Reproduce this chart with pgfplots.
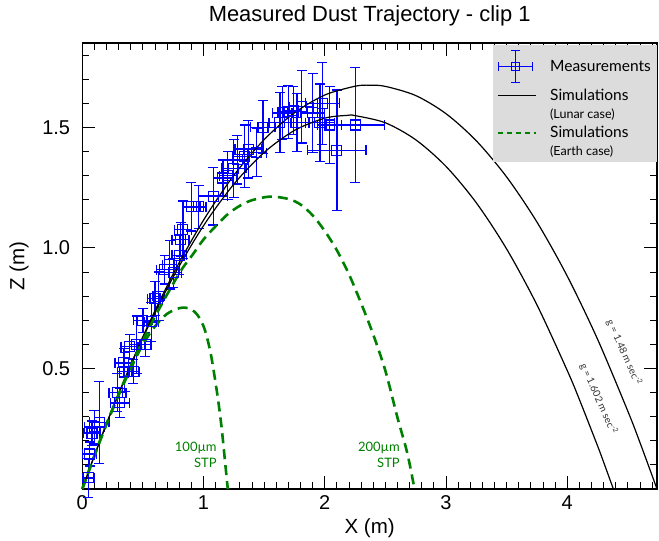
\documentclass[border=0pt]{standalone}
\usepackage{fontspec}
\setmainfont{Liberation Sans}
\newfontfamily\gill{Lato}
\usepackage{pgfplots}
\pgfplotsset{compat=1.18}
\definecolor{ptblue}{RGB}{0,0,255}
\definecolor{simgreen}{RGB}{0,128,0}
\definecolor{legendgray}{RGB}{220,220,220}

% error bars in blue with caps
\pgfplotsset{/pgfplots/error bars/draw error bar/.code 2 args={%
  \draw[ptblue, line width=1.2pt] #1 -- #2
    node[pos=1, sloped, allow upside down, inner sep=0pt, outer sep=0pt]
    {\tikz\draw[ptblue, line width=1.2pt] (0pt,-5pt) -- (0pt,5pt);};}}

\begin{document}
\begin{tikzpicture}
\begin{axis}[
  scale only axis, width=574.7pt, height=446pt,
  xmin=0, xmax=4.74, ymin=0, ymax=1.85,
  clip=false,
  xtick={0,1,2,3,4},
  minor xtick={0.1,0.2,...,4.7},
  ytick={0.5,1.0,1.5},
  minor ytick={0.1,0.2,...,1.8},
  tick align=inside,
  major tick length=13pt, minor tick length=7pt,
  every tick/.style={black, line width=0.9pt},
  axis line style={line width=1.3pt},
  /pgf/number format/assume math mode=true,
  tick label style={font=\fontsize{20}{22}\selectfont},
  xticklabel style={anchor=base, yshift=-20pt},
  yticklabel style={anchor=east, inner sep=0pt, xshift=-12pt,
    /pgf/number format/.cd, fixed, fixed zerofill, precision=1},
  title={Measured Dust Trajectory - clip 1},
  title style={at={([yshift=15pt]axis description cs:0.5,1)}, anchor=base,
    font=\fontsize{21.9}{24}\selectfont},
  xlabel={X (m)},
  xlabel style={at={([yshift=-44pt]axis description cs:0.5,0)}, anchor=base,
    font=\fontsize{20.5}{22}\selectfont},
  ylabel={Z (m)},
  ylabel style={at={([xshift=-58pt]axis description cs:0,0.5)}, anchor=base,
    font=\fontsize{20.5}{22}\selectfont},
  legend style={at={(1,1)}, anchor=north east, yshift=-2pt,
    fill=legendgray, draw=none, inner xsep=4pt, inner ysep=3pt,
    row sep=2.5pt,
    /tikz/every odd column/.append style={column sep=11pt},
    font=\gill\fontsize{15.5}{18}\selectfont},
  legend cell align=left,
]

% measured positions with errors
\addplot[color=ptblue, draw=ptblue, only marks, mark=square, mark size=5pt,
  mark options={line width=1.1pt, draw=ptblue},
  legend image code/.code={
    \path (0pt,-18pt) (0pt,18pt);
    \draw[ptblue, line width=1.2pt]
      (0pt,0pt) -- (34pt,0pt)
      (0pt,-4.5pt) -- (0pt,4.5pt)
      (34pt,-4.5pt) -- (34pt,4.5pt)
      (17pt,-16pt) -- (17pt,16pt)
      (12.5pt,-16pt) -- (21.5pt,-16pt)
      (12.5pt,16pt) -- (21.5pt,16pt)
      (13pt,-4pt) rectangle (21pt,4pt);},
  error bars/.cd, x dir=both, x explicit, y dir=both, y explicit]
  coordinates {
  (0.05,0.046) +- (0.05,0.08)
  (0.06,0.145) +- (0.06,0.05)
  (0.08,0.232) +- (0.07,0.05)
  (0.10,0.257) +- (0.08,0.07)
  (0.14,0.276) +- (0.08,0.17)
  (0.31,0.357) +- (0.08,0.06)
  (0.29,0.40) +- (0.07,0.08)
  (0.35,0.486) +- (0.06,0.08)
  (0.34,0.523) +- (0.07,0.06)
  (0.42,0.486) +- (0.05,0.05)
  (0.39,0.59) +- (0.07,0.05)
  (0.45,0.598) +- (0.06,0.12)
  (0.52,0.598) +- (0.05,0.05)
  (0.50,0.70) +- (0.08,0.05)
  (0.57,0.693) +- (0.06,0.08)
  (0.60,0.79) +- (0.06,0.07)
  (0.63,0.80) +- (0.05,0.10)
  (0.68,0.91) +- (0.07,0.06)
  (0.72,0.93) +- (0.06,0.10)
  (0.75,0.897) +- (0.07,0.06)
  (0.80,0.97) +- (0.06,0.08)
  (0.81,1.034) +- (0.07,0.07)
  (0.83,1.075) +- (0.07,0.12)
  (0.90,1.17) +- (0.07,0.10)
  (0.96,1.17) +- (0.06,0.09)
  (1.08,1.215) +- (0.12,0.12)
  (1.16,1.29) +- (0.08,0.075)
  (1.20,1.30) +- (0.07,0.10)
  (1.25,1.33) +- (0.10,0.12)
  (1.28,1.365) +- (0.08,0.10)
  (1.34,1.38) +- (0.10,0.13)
  (1.37,1.41) +- (0.11,0.12)
  (1.44,1.395) +- (0.08,0.10)
  (1.49,1.50) +- (0.10,0.11)
  (1.63,1.52) +- (0.09,0.125)
  (1.65,1.56) +- (0.08,0.11)
  (1.70,1.565) +- (0.08,0.11)
  (1.74,1.57) +- (0.07,0.10)
  (1.77,1.52) +- (0.10,0.12)
  (1.81,1.585) +- (0.10,0.15)
  (1.90,1.56) +- (0.10,0.165)
  (1.98,1.60) +- (0.14,0.17)
  (1.96,1.52) +- (0.12,0.16)
  (2.04,1.51) +- (0.10,0.16)
  (2.10,1.405) +- (0.24,0.25)
  (2.25,1.51) +- (0.24,0.24)
  };
\addlegendentry{Measurements}

% lunar case, g = 1.48
\addplot[black, line width=1.2pt, smooth,
  legend image code/.code={\draw[black, line width=1.8pt] (0pt,0pt) -- (38pt,0pt);}]
  coordinates {
  (0,0) (0.1,0.1384) (0.25,0.3347) (0.5,0.6322) (0.75,0.8924) (1.0,1.1153)
  (1.25,1.3010) (1.5,1.4493) (1.75,1.5604) (2.0,1.6342) (2.25,1.6707)
  (2.37,1.6750) (2.5,1.6700) (2.75,1.6320) (3.0,1.5567) (3.25,1.4441)
  (3.5,1.2942) (3.75,1.1071) (4.0,0.8827) (4.25,0.6210) (4.5,0.3221)
  (4.6,0.1920) (4.74,0)
  };
\addlegendentry{Simulations}
\addlegendimage{empty legend}
\addlegendentry{\fontsize{12.5}{14}\selectfont (Lunar case)}

% lunar case, g = 1.602
\addplot[black, line width=1.2pt, smooth, forget plot]
  coordinates {
  (0,0) (0.1,0.1383) (0.25,0.3337) (0.5,0.6270) (0.75,0.8799) (1.0,1.0923)
  (1.25,1.2644) (1.5,1.3961) (1.75,1.4874) (2.0,1.5383) (2.19,1.5500)
  (2.25,1.5488) (2.5,1.5189) (2.75,1.4486) (3.0,1.3380) (3.25,1.1869)
  (3.5,0.9954) (3.75,0.7635) (4.0,0.4912) (4.1,0.3710) (4.25,0.1786)
  (4.3,0.1112) (4.38,0)
  };

% earth case, 200 um
\addplot[simgreen, line width=2.6pt, dash pattern=on 10pt off 6pt, smooth,
  legend image code/.code={\draw[simgreen, line width=1.8pt, dash pattern=on 5pt off 4pt] (0pt,0pt) -- (38pt,0pt);}]
  coordinates {
  (0,0) (0.1,0.138) (0.2,0.27) (0.4,0.51) (0.6,0.715) (0.8,0.895)
  (0.9,0.965) (1.0,1.035) (1.1,1.09) (1.2,1.14) (1.3,1.175) (1.4,1.198)
  (1.55,1.213) (1.7,1.203) (1.8,1.18) (1.9,1.135) (2.0,1.07) (2.1,0.99)
  (2.2,0.89) (2.3,0.77) (2.4,0.64) (2.5,0.49) (2.6,0.295) (2.68,0.15)
  (2.74,0)
  };
\addlegendentry{Simulations}
\addlegendimage{empty legend}
\addlegendentry{\fontsize{12.5}{14}\selectfont (Earth case)}

% earth case, 100 um
\addplot[simgreen, line width=2.6pt, dash pattern=on 10pt off 6pt, smooth, forget plot]
  coordinates {
  (0,0) (0.1,0.138) (0.2,0.27) (0.3,0.39) (0.4,0.5) (0.5,0.6) (0.6,0.675)
  (0.7,0.727) (0.8,0.75) (0.85,0.752) (0.9,0.745) (0.95,0.722) (1.0,0.675)
  (1.03,0.625) (1.06,0.56) (1.09,0.47) (1.12,0.37) (1.15,0.25) (1.18,0.1)
  (1.2,0)
  };

\node[rotate=-66, font=\gill\fontsize{10}{11}\selectfont, text=black!80]
  at (axis cs:4.47,0.565) {g = 1.48 m sec\textsuperscript{-2}};
\node[rotate=-66, font=\gill\fontsize{10}{11}\selectfont, text=black!80]
  at (axis cs:4.26,0.374) {g = 1.602 m sec\textsuperscript{-2}};
\node[anchor=east, align=right, inner sep=0pt, text=simgreen,
  font=\gill\fontsize{13}{16}\selectfont] at (axis cs:1.11,0.141) {100µm\\STP};
\node[anchor=east, align=right, inner sep=0pt, text=simgreen,
  font=\gill\fontsize{13}{16}\selectfont] at (axis cs:2.62,0.141) {200µm\\STP};
\end{axis}
\path ([shift={(-82.3pt,-50pt)}]current axis.south west)
  rectangle ([shift={(2pt,43pt)}]current axis.north east);
\end{tikzpicture}
\end{document}
